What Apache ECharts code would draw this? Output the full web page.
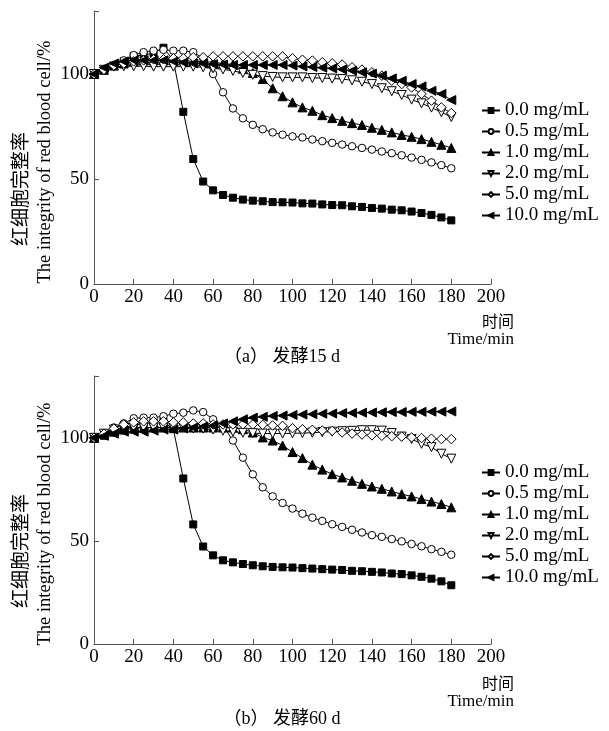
<!DOCTYPE html>
<html>
<head>
<meta charset="utf-8">
<script src="https://cdn.jsdelivr.net/npm/echarts@6/dist/echarts.min.js"></script>
<style>
	html, body {margin: 0; padding: 0; background: #fff;}
	#main {width: 609px; height: 731px;}
</style>
</head>
<body>
<div id="main"></div>
<script>
//时间点 min
var times = [0, 5, 10, 15, 20, 25, 30, 35, 40, 45, 50, 55, 60, 65, 70, 75, 80, 85, 90, 95,
	100, 105, 110, 115, 120, 125, 130, 135, 140, 145, 150, 155, 160, 165, 170, 175, 180]
var names = ['0.0 mg/mL', '0.5 mg/mL', '1.0 mg/mL', '2.0 mg/mL', '5.0 mg/mL', '10.0 mg/mL']
var xTicks = [0, 20, 40, 60, 80, 100, 120, 140, 160, 180, 200]
var yTicks = [0, 50, 100]

//(a) 发酵15 d
var a00 = [100, 102, 104, 106, 108.5, 109, 110, 112.5, 106.5, 82, 59.5, 48.8, 44.6, 42.4, 41.1, 40.2, 39.7, 39.4, 39.0, 38.9,
	38.8, 38.4, 38.3, 37.9, 37.6, 37.5, 37.0, 36.7, 36.2, 35.9, 35.4, 35.1, 34.5, 33.8, 32.9, 31.7, 30.3]
var a05 = [100, 102, 104, 106.5, 109, 110.4, 111.1, 111.5, 111.1, 111.1, 110.4, 107.5, 100, 91.3, 83.6, 78.9, 75.8, 73.7, 72.2, 71.1,
	70.3, 69.8, 68.8, 68.0, 67.2, 66.4, 65.6, 64.8, 64.0, 63.1, 62.3, 61.3, 60.2, 59.1, 57.9, 56.6, 55.1]
var a10 = [100, 102, 104, 105, 106, 106.5, 106.5, 106.5, 106.5, 106.5, 106, 106, 105.5, 105, 104.5, 102.5, 100.5, 97.6, 93.2, 89.4,
	86.5, 84.1, 82.5, 80.4, 79.0, 77.7, 76.6, 75.7, 74.4, 73.4, 72.2, 71.0, 70.1, 69.0, 67.7, 66.3, 64.8]
var a20 = [100, 102, 103.5, 103.7, 103.7, 103.7, 103.5, 103.5, 103.5, 103.5, 103.5, 103.2, 102.7, 102.2, 101.5, 100.5, 99.6, 99, 98.6, 98.4,
	98.4, 98.4, 98.1, 98.1, 97.8, 97.6, 97.0, 96.3, 95.2, 93.2, 91.8, 90, 87.8, 86, 84, 81.8, 79.5]
var a50 = [100, 102, 104, 105, 106, 106.5, 107, 107, 107.5, 107.5, 108, 108, 108.4, 108.4, 108.4, 108.4, 108.4, 108.4, 108.4, 108.4,
	107.5, 106.8, 106.4, 105.6, 105.1, 104.5, 103.2, 102.1, 100.8, 99.2, 96.8, 95.2, 93.6, 90.5, 87.3, 84.1, 81.4]
var a100 = [100, 103, 105, 106, 106.5, 106.5, 106.5, 106.5, 106, 105.5, 105, 105, 104.7, 104.5, 104.3, 104.3, 104.3, 104.3, 104.3, 104.3,
	104.0, 103.6, 103.3, 103.0, 102.7, 102.2, 101.6, 100.8, 100.2, 99.2, 97.9, 96.8, 95.2, 94.1, 92.0, 90.5, 87.6]

//(b) 发酵60 d
var b00 = [100, 101, 103, 105, 106, 107, 107.5, 108, 104.2, 80.3, 58, 47.3, 43.0, 40.6, 39.6, 38.8, 38.2, 37.7, 37.4, 37.2,
	37.1, 36.8, 36.6, 36.3, 36.1, 35.9, 35.5, 35.3, 35.0, 34.7, 34.2, 33.9, 33.3, 32.6, 31.7, 30.4, 28.5]
var b05 = [100, 102, 105, 107, 109.5, 109.8, 109.8, 110.5, 111.7, 112.2, 113.3, 112.5, 109, 105.8, 98.7, 90.4, 82.3, 76.0, 71.6, 68.4,
	65.7, 63.2, 61.3, 59.7, 58.1, 56.8, 55.4, 54.1, 52.8, 52.0, 50.9, 49.8, 48.5, 47.4, 46.0, 44.7, 43.3]
var b10 = [100, 102, 103, 104, 104.5, 105, 105, 105, 105, 105, 105, 105, 105, 105, 105, 104.2, 102.6, 100.2, 98.7, 96.3,
	93.1, 90.2, 87.0, 84.6, 82.4, 80.8, 79.2, 77.7, 76.4, 75.3, 74.0, 72.7, 71.6, 70.3, 69.1, 67.9, 66.3]
var b20 = [100, 102, 104, 105, 105, 105, 105, 105, 105, 105, 104.5, 104.5, 104, 103.5, 103, 102.5, 102.3, 102.1, 102.1, 102.1,
	102.2, 102.3, 102.5, 102.8, 103, 103.2, 103.4, 103.7, 103.7, 103.5, 102.3, 100.6, 99.4, 97.1, 95.5, 92.3, 89.9]
var b50 = [100, 102, 104.5, 106.5, 107.5, 108, 108, 108, 107.5, 107.5, 107, 107, 106.5, 106.5, 106.5, 106.5, 106.5, 106.3, 106, 105.8,
	104.7, 104.2, 103.9, 103.6, 103.4, 102.6, 102.1, 101.6, 101.2, 101.0, 100.8, 100.6, 100.2, 99.9, 99.6, 99.4, 99.4]
var b100 = [100, 101, 102, 103, 103, 103, 103.5, 104, 104, 104.5, 105, 105.5, 106, 107, 108, 109, 109.8, 110.2, 110.6, 110.8,
	111.1, 111.3, 111.5, 111.7, 111.8, 112, 112.1, 112.2, 112.3, 112.4, 112.5, 112.5, 112.6, 112.6, 112.7, 112.7, 112.8]

var serif = "'Liberation Serif', 'Times New Roman', serif"
var cjk = "'Noto Sans CJK SC', sans-serif"
var mixed = "'Liberation Serif', 'Noto Sans CJK SC', serif"

//各浓度的标记样式
var marks = [
	{symbol: 'rect', size: 7, fill: '#000', rotate: 0},
	{symbol: 'circle', size: 7.5, fill: '#fff', rotate: 0},
	{symbol: 'triangle', size: 9, fill: '#000', rotate: 0},
	{symbol: 'triangle', size: 9, fill: '#fff', rotate: 180},
	{symbol: 'diamond', size: 9.5, fill: '#fff', rotate: 0},
	{symbol: 'triangle', size: 9, fill: '#000', rotate: 90}
]

function pairs(values) {
	var result = []
	for (var x = 0; x < times.length; x++) {
		result.push([times[x], values[x]])
	}
	return result
}

function makeSeries(idx, values, gridIdx) {
	var m = marks[idx]
	return {
		name: names[idx],
		type: 'line',
		xAxisIndex: gridIdx,
		yAxisIndex: gridIdx,
		data: pairs(values),
		symbol: m.symbol,
		symbolSize: m.size,
		symbolRotate: m.rotate,
		showAllSymbol: true,
		lineStyle: {color: '#000', width: 1},
		itemStyle: {color: m.fill, borderColor: '#000', borderWidth: 1},
		emphasis: {disabled: true},
		animation: false
	}
}

function makeX(gridIdx) {
	return {
		type: 'value', gridIndex: gridIdx, min: 0, max: 200, interval: 20,
		axisLine: {lineStyle: {color: '#555', width: 1}},
		axisTick: {inside: true, length: 5, lineStyle: {color: '#555'}},
		axisLabel: {color: '#000', fontFamily: serif, fontSize: 19, margin: 4},
		splitLine: {show: false}
	}
}

function makeY(gridIdx) {
	return {
		type: 'value', gridIndex: gridIdx, min: 0, max: 130,
		axisLine: {show: true, lineStyle: {color: '#555', width: 1}},
		axisTick: {show: true, inside: true, length: 5, customValues: [0, 50, 100, 130], lineStyle: {color: '#555'}},
		axisLabel: {color: '#000', fontFamily: serif, fontSize: 19, margin: 5, customValues: yTicks},
		splitLine: {show: false}
	}
}

function makeLegend(top) {
	return {
		orient: 'vertical', left: 476, top: top,
		itemWidth: 18, itemHeight: 6, itemGap: 2,
		data: names,
		textStyle: {color: '#000', fontFamily: serif, fontSize: 19, lineHeight: 19},
		selectedMode: false
	}
}

//每个面板的文字
function panelTexts(dy, caption) {
	return [
		{type: 'text', x: 20, y: 189 + dy, rotation: Math.PI / 2,
			style: {text: '红细胞完整率', font: '19px ' + cjk, fill: '#000', textAlign: 'center', textVerticalAlign: 'middle'}},
		{type: 'text', x: 45, y: 162 + dy, rotation: Math.PI / 2,
			style: {text: 'The integrity of red blood cell/%', font: '18.5px ' + serif, fill: '#000', textAlign: 'center', textVerticalAlign: 'middle'}},
		{type: 'text', x: 514, y: 321 + dy,
			style: {text: '时间', font: '16px ' + cjk, fill: '#000', textAlign: 'right', textVerticalAlign: 'middle'}},
		{type: 'text', x: 514, y: 340 + dy,
			style: {text: 'Time/min', font: '17px ' + serif, fill: '#000', textAlign: 'right', textVerticalAlign: 'middle'}},
		{type: 'text', x: 282, y: 357 + dy,
			style: {text: caption, font: '18px ' + mixed, fill: '#000', textAlign: 'center', textVerticalAlign: 'middle'}}
	]
}

var chart = echarts.init(document.getElementById('main'), null, {renderer: 'canvas'})

var seriesList = []
var dataA = [a00, a05, a10, a20, a50, a100]
var dataB = [b00, b05, b10, b20, b50, b100]
for (var x = 0; x < names.length; x++) {
	seriesList.push(makeSeries(x, dataA[x], 0))
}
for (var x = 0; x < names.length; x++) {
	seriesList.push(makeSeries(x, dataB[x], 1))
}

chart.setOption({
	backgroundColor: '#fff',
	animation: false,
	grid: [
		{left: 94, top: 11, width: 397, height: 273},
		{left: 94, top: 376, width: 397, height: 268}
	],
	xAxis: [makeX(0), makeX(1)],
	yAxis: [makeY(0), makeY(1)],
	legend: [makeLegend(96), makeLegend(458)],
	graphic: panelTexts(0, '（a） 发酵15 d').concat(panelTexts(362, '（b） 发酵60 d')),
	series: seriesList
})
</script>
</body>
</html>
